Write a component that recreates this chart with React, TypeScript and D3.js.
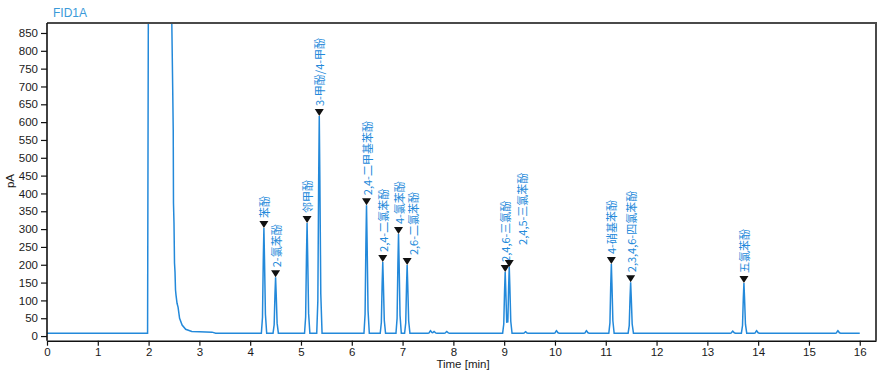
import * as d3 from 'd3';
import React, { useRef, useEffect } from 'react';

// peak table (retention time in min, apex in pA)
const peakNames = [
    '苯酚', '2-氯苯酚', '邻甲酚', '3-甲酚/4-甲酚', '2,4-二甲基苯酚', '2,4-二氯苯酚', '4-氯苯酚',
    '2,6-二氯苯酚', '2,4,6-三氯酚', '2,4,5-三氯苯酚', '4-硝基苯酚', '2,3,4,6-四氯苯酚', '五氯苯酚',
];
const peakTimes = [4.27, 4.5, 5.12, 5.36, 6.29, 6.61, 6.92, 7.09, 9.02, 9.1, 11.11, 11.49, 13.72];
const peakHeights = [303, 165, 317, 617, 367, 208, 286, 199, 180, 194, 202, 151, 149];

// small unlabeled bumps on the baseline
const bumpTimes = [7.55, 7.62, 7.87, 9.42, 10.03, 10.62, 13.5, 13.97, 15.57];
const bumpHeights = [7, 5, 5, 4, 7, 7, 6, 7, 7];

// solvent front (off scale) and its tail
const solventTimes = [0, 1.98, 1.99, 2.0, 2.44, 2.455, 2.475, 2.485, 2.49, 2.5, 2.51, 2.52, 2.53, 2.54, 2.56, 2.58, 2.61, 2.66, 2.73, 2.85, 3.0, 3.25, 3.32];
const solventValues = [8, 8, 610, 1200, 1200, 900, 690, 578, 373, 317, 205, 180, 129, 115, 92, 81, 50, 31, 19, 13, 12, 11, 8];

const baselineLevel = 8;
const runEnd = 16.0;

// shape of one narrow peak: offset (min) -> fraction of apex
const profileOffsets = [-0.05, -0.028, -0.012, 0, 0.012, 0.03, 0.055];
const profileFractions = [0, 0.15, 0.7, 1, 0.7, 0.18, 0];

const yTicks = d3.range(0, 851, 50);
const xTicks = d3.range(0, 17, 1);

const labelNudge: any = { '2,4,5-三氯苯酚': [13, -12], '2,6-二氯苯酚': [6, 0] };

const App = () => {
    const svgRef = useRef<SVGSVGElement>(null);

    useEffect(() => {
        const W = 886;
        const H = 372;
        const opt = { left: 47, right: 876, top: 23, bottom: 340.7 };
        const blue = '#2389da';

        const svg = d3.select(svgRef.current);
        svg.selectAll('*').remove();

        const x = d3.scaleLinear().domain([0, 16.32]).range([opt.left, opt.right]);
        const y = d3.scaleLinear().domain([-13, 878]).range([opt.bottom, opt.top]);

        // build the trace
        const profile = d3.scaleLinear().domain(profileOffsets).range(profileFractions).clamp(true);
        const peaks = peakTimes.map((t, i) => ({ t, h: peakHeights[i] - baselineLevel }))
            .concat(bumpTimes.map((t, i) => ({ t, h: bumpHeights[i] })));

        let times: number[] = [3.32, runEnd];
        peaks.forEach((p) => profileOffsets.forEach((o) => times.push(p.t + o)));
        times = Array.from(new Set(times.map((t) => +t.toFixed(4)))).sort((a, b) => a - b);

        const trace: [number, number][] = solventTimes.map((t, i) => [t, solventValues[i]]);
        times.forEach((t) => {
            if (t <= 3.32) return;
            let v = baselineLevel;
            peaks.forEach((p) => {
                const o = t - p.t;
                if (o > profileOffsets[0] && o < profileOffsets[profileOffsets.length - 1]) v += p.h * profile(o);
            });
            trace.push([t, v]);
        });

        svg.append('defs').append('clipPath').attr('id', 'plotClip')
            .append('rect')
            .attr('x', opt.left).attr('y', opt.top)
            .attr('width', opt.right - opt.left).attr('height', opt.bottom - opt.top);

        const line = d3.line<[number, number]>().x((d) => x(d[0])).y((d) => y(d[1]));

        svg.append('path')
            .datum(trace)
            .attr('clip-path', 'url(#plotClip)')
            .attr('d', line)
            .attr('fill', 'none')
            .attr('stroke', blue)
            .attr('stroke-width', 1.5)
            .attr('stroke-linejoin', 'miter');

        // frame (top and right)
        svg.append('path')
            .attr('d', `M${opt.left},${opt.top}H${opt.right}V${opt.bottom}`)
            .attr('fill', 'none')
            .attr('stroke', '#4a4a4a')
            .attr('stroke-width', 2);

        // axes
        const gy = svg.append('g').attr('transform', `translate(${opt.left},0)`)
            .call(d3.axisLeft(y).tickValues(yTicks).tickSize(6).tickPadding(3).tickSizeOuter(0));
        const gx = svg.append('g').attr('transform', `translate(0,${opt.bottom})`)
            .call(d3.axisBottom(x).tickValues(xTicks).tickSize(5).tickPadding(2).tickSizeOuter(0));
        [gx, gy].forEach((g) => {
            g.select('.domain').attr('stroke', '#111').attr('stroke-width', 1.6);
            g.selectAll('.tick line').attr('stroke', '#111').attr('stroke-width', 1.2);
            g.selectAll('.tick text')
                .attr('fill', '#1a1a1a')
                .style('font-family', '"Liberation Sans", Arial, sans-serif')
                .style('font-size', '11.5px');
        });
        gy.select('.domain').attr('d', `M0,${opt.top}V${opt.bottom}`);

        // peak markers and labels
        const gPeaks = svg.append('g');
        peakNames.forEach((name, i) => {
            const px = x(peakTimes[i]);
            const py = y(peakHeights[i]);
            gPeaks.append('path')
                .attr('d', `M${px - 4.5},${py - 7}L${px + 4.5},${py - 7}L${px},${py}Z`)
                .attr('fill', '#111');
            const nudge = labelNudge[name] || [0, 0];
            gPeaks.append('text')
                .attr('transform', `translate(${px + nudge[0]},${py - 10 + nudge[1]}) rotate(-90)`)
                .attr('text-anchor', 'start')
                .attr('dominant-baseline', 'central')
                .attr('fill', blue)
                .style('font-family', '"Noto Sans CJK SC", sans-serif')
                .style('font-size', '11px')
                .text(name);
        });

        // titles
        svg.append('text')
            .attr('x', 53).attr('y', 17)
            .attr('fill', '#3a9ad9')
            .style('font-family', '"Liberation Sans", Arial, sans-serif')
            .style('font-size', '12px')
            .text('FID1A');

        svg.append('text')
            .attr('transform', `translate(14,181) rotate(-90)`)
            .attr('text-anchor', 'middle')
            .attr('fill', '#1a1a1a')
            .style('font-family', '"Liberation Sans", Arial, sans-serif')
            .style('font-size', '11.5px')
            .text('pA');

        svg.append('text')
            .attr('x', 463).attr('y', 368)
            .attr('text-anchor', 'middle')
            .attr('fill', '#1a1a1a')
            .style('font-family', '"Liberation Sans", Arial, sans-serif')
            .style('font-size', '11.5px')
            .text('Time [min]');

        svg.attr('width', W).attr('height', H);
    }, []);

    return (
        <svg ref={svgRef} width={886} height={372}
            style={{ position: 'absolute', left: 0, top: 0, background: '#fff' }} />
    );
};

export default App;
